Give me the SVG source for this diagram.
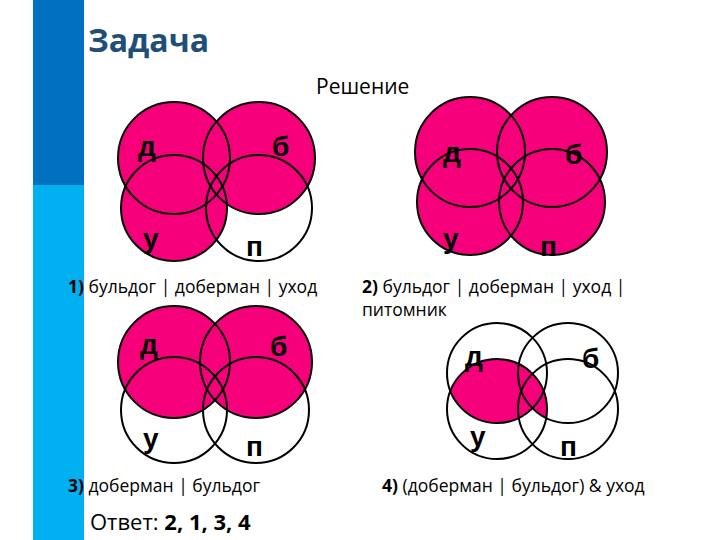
<svg xmlns="http://www.w3.org/2000/svg" width="720" height="540" viewBox="0 0 720 540">
<style>
.f{fill:#F5007A}
.o{fill:none;stroke:#000;stroke-width:2}
.l{font-family:"Liberation Sans",Arial,sans-serif;font-size:28px;font-weight:bold;fill:#000}
.t{font-family:"Open Sans","DejaVu Sans",sans-serif;font-size:17.5px;fill:#000}
</style>
<defs>
<clipPath id="cu"><circle cx="497" cy="409" r="50"/></clipPath>
</defs>
<rect width="720" height="540" fill="#fff"/>
<rect x="33" y="0" width="51" height="185" fill="#0070C0"/>
<rect x="33" y="185" width="51" height="355" fill="#00B0F0"/>
<text x="88" y="52" font-family="Open Sans,sans-serif" font-weight="bold" font-size="32" fill="#1F4E79">Задача</text>
<text x="316" y="94" class="t" style="font-size:21px">Решение</text>
<g id="d1">
<circle class="f" cx="174" cy="158" r="56"/><circle class="f" cx="259" cy="158" r="56"/><circle class="f" cx="174" cy="208" r="53"/>
<circle class="o" cx="174" cy="158" r="56"/><circle class="o" cx="259" cy="158" r="56"/><circle class="o" cx="174" cy="208" r="53"/><circle class="o" cx="259" cy="208" r="53"/>
<text class="l" x="138" y="156">д</text><text class="l" x="272" y="156">б</text><text class="l" x="143" y="248">у</text><text class="l" x="246" y="256">п</text>
</g>
<g id="d2">
<circle class="f" cx="470" cy="152" r="55"/><circle class="f" cx="552" cy="152" r="55"/><circle class="f" cx="470" cy="202" r="53"/><circle class="f" cx="552" cy="202" r="53"/>
<circle class="o" cx="470" cy="152" r="55"/><circle class="o" cx="552" cy="152" r="55"/><circle class="o" cx="470" cy="202" r="53"/><circle class="o" cx="552" cy="202" r="53"/>
<text class="l" x="443" y="162">д</text><text class="l" x="565" y="164">б</text><text class="l" x="443" y="248">у</text><text class="l" x="540" y="256">п</text>
</g>
<g id="d3">
<circle class="f" cx="174" cy="362" r="56"/><circle class="f" cx="256" cy="362" r="56"/>
<circle class="o" cx="174" cy="362" r="56"/><circle class="o" cx="256" cy="362" r="56"/><circle class="o" cx="174" cy="410" r="53"/><circle class="o" cx="256" cy="410" r="53"/>
<text class="l" x="140" y="354">д</text><text class="l" x="270" y="356">б</text><text class="l" x="143" y="448">у</text><text class="l" x="246" y="456">п</text>
</g>
<g id="d4">
<g clip-path="url(#cu)"><circle class="f" cx="497" cy="373" r="50"/><circle class="f" cx="568" cy="373" r="50"/></g>
<circle class="o" cx="497" cy="373" r="50"/><circle class="o" cx="568" cy="373" r="50"/><circle class="o" cx="497" cy="409" r="50"/><circle class="o" cx="568" cy="409" r="50"/>
<text class="l" x="465" y="366">д</text><text class="l" x="582" y="368">б</text><text class="l" x="470" y="446">у</text><text class="l" x="560" y="456">п</text>
</g>
<text class="t" x="68" y="293"><tspan font-weight="bold">1)</tspan> бульдог | доберман | уход</text>
<text class="t" x="362" y="293"><tspan font-weight="bold">2)</tspan> бульдог | доберман | уход |</text>
<text class="t" x="362" y="316">питомник</text>
<text class="t" x="68" y="492"><tspan font-weight="bold">3)</tspan> доберман | бульдог</text>
<text class="t" x="382" y="492"><tspan font-weight="bold">4)</tspan> (доберман | бульдог) &amp; уход</text>
<text class="t" x="90" y="530" style="font-size:22px">Ответ: <tspan font-weight="bold">2, 1, 3, 4</tspan></text>
</svg>
